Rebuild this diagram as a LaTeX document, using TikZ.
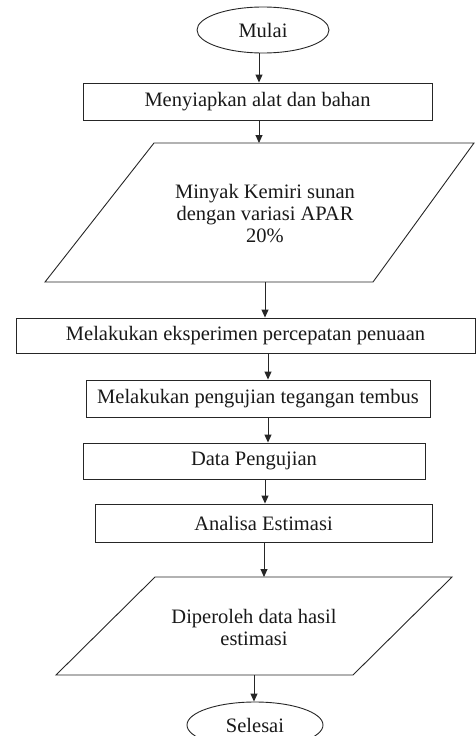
\documentclass[tikz,border=0pt]{standalone}
\usepackage{fontspec}
\setmainfont{Liberation Serif}
\usetikzlibrary{shapes.geometric,arrows.meta}
\begin{document}
\begin{tikzpicture}[x=1pt,y=-1pt,
  every node/.style={font=\fontsize{20.5}{22}\selectfont, inner sep=0pt, text=black!90},
  proc/.style={draw=black!85, line width=0.9pt, rectangle},
  term/.style={draw=black!85, line width=0.9pt, ellipse},
  arr/.style={draw=black!85, -{Triangle[length=8pt,width=7pt]}, line width=0.9pt},
  io/.style={draw=black!85, line width=0.9pt}]
\useasboundingbox (0,0) rectangle (476,736);
\clip (0,0) rectangle (476,736);
% column coordinates for connectors
\coordinate (c1) at (259,0);
\coordinate (c2) at (265,0);
\coordinate (c3) at (268,0);
\coordinate (c4) at (264,0);
\coordinate (c5) at (254,0);
% nodes
\node[term, minimum width=132pt, minimum height=46pt] (mulai) at (263,30) {Mulai};
\node[proc, minimum width=349pt, minimum height=37pt] (box1) at (257.5,101.5) {Menyiapkan alat dan bahan};
\coordinate (p1tl) at (154,143);
\coordinate (p1tr) at (474,143);
\coordinate (p1br) at (373,282);
\coordinate (p1bl) at (45,282);
\draw[io] (p1tl) -- (p1tr) -- (p1br) -- (p1bl) -- cycle;
\node[align=center] (p1) at (265,214) {Minyak Kemiri sunan\\dengan variasi APAR\\20\%};
\node[proc, minimum width=459pt, minimum height=35pt] (box2) at (245.5,335.5) {Melakukan eksperimen percepatan penuaan};
\node[proc, minimum width=344pt, minimum height=37pt] (box3) at (258,398.5) {Melakukan pengujian tegangan tembus};
\node[proc, minimum width=342pt, minimum height=36pt] (box4) at (254,461) {Data Pengujian};
\node[proc, minimum width=337pt, minimum height=38pt] (box5) at (263.5,523) {Analisa Estimasi};
\coordinate (p2tl) at (155,577);
\coordinate (p2tr) at (452,577);
\coordinate (p2br) at (353,675);
\coordinate (p2bl) at (56,675);
\draw[io] (p2tl) -- (p2tr) -- (p2br) -- (p2bl) -- cycle;
\node[align=center] (p2) at (254,627) {Diperoleh data hasil\\estimasi};
\node[term, minimum width=136pt, minimum height=46pt] (selesai) at (255,725) {Selesai};
% connectors
\draw[arr] (mulai.south -| c1) -- (box1.north -| c1);
\draw[arr] (box1.south -| c1) -- (p1tl -| c1);
\draw[arr] (p1bl -| c2) -- (box2.north -| c2);
\draw[arr] (box2.south -| c3) -- (box3.north -| c3);
\draw[arr] (box3.south -| c3) -- (box4.north -| c3);
\draw[arr] (box4.south -| c2) -- (box5.north -| c2);
\draw[arr] (box5.south -| c4) -- (p2tl -| c4);
\draw[arr] (p2bl -| c5) -- (selesai.north -| c5);
\end{tikzpicture}
\end{document}
